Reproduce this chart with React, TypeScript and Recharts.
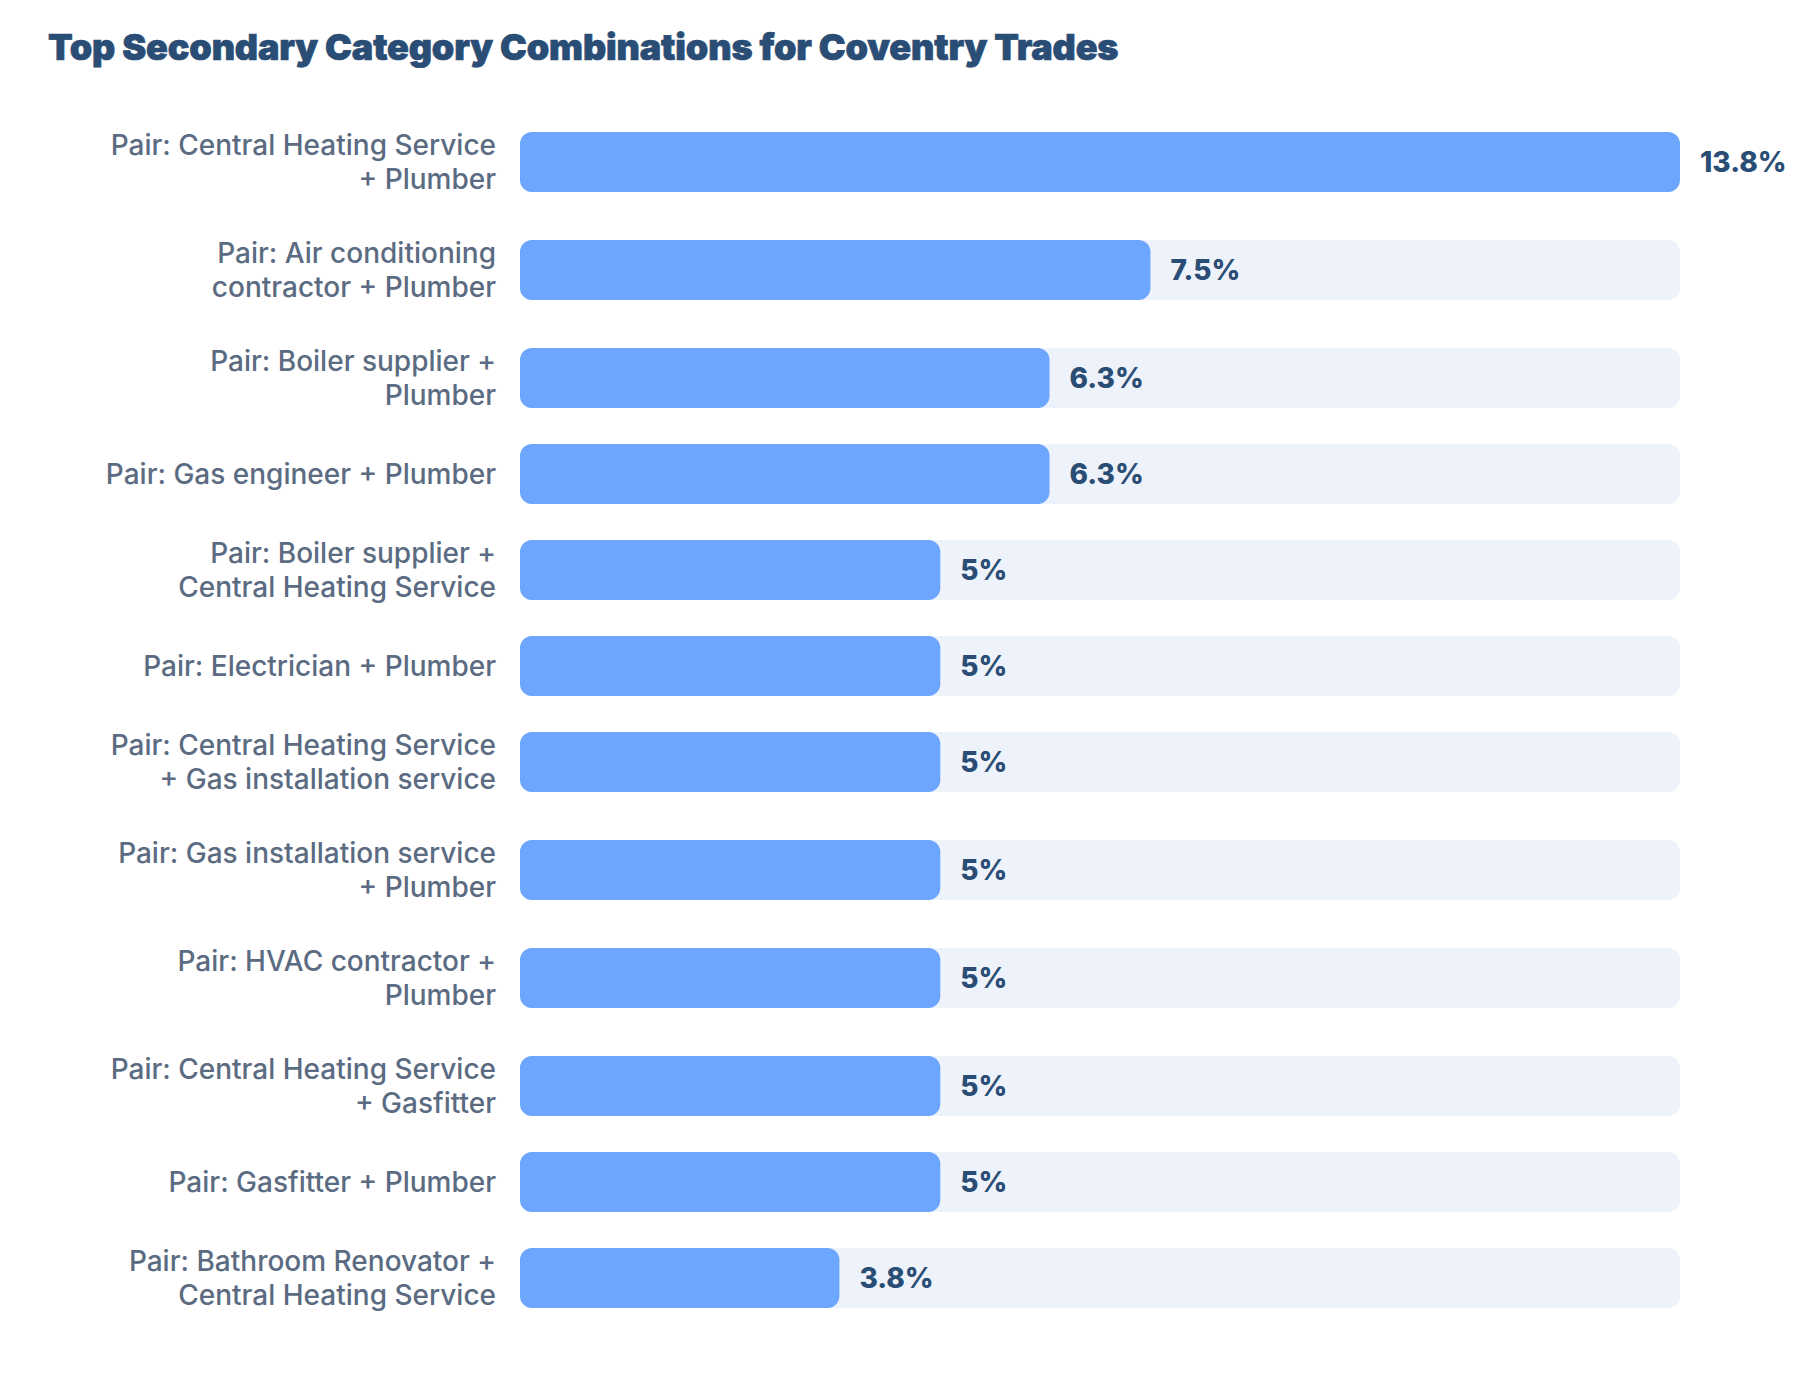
import { BarChart, Bar, XAxis, YAxis, LabelList } from 'recharts';

const title = 'Top Secondary Category Combinations for Coventry Trades';

// wrapped the way the labels wrap in the picture
const categoryLines: string[][] = [
  ['Pair: Central Heating Service', '+ Plumber'],
  ['Pair: Air conditioning', 'contractor + Plumber'],
  ['Pair: Boiler supplier +', 'Plumber'],
  ['Pair: Gas engineer + Plumber'],
  ['Pair: Boiler supplier +', 'Central Heating Service'],
  ['Pair: Electrician + Plumber'],
  ['Pair: Central Heating Service', '+ Gas installation service'],
  ['Pair: Gas installation service', '+ Plumber'],
  ['Pair: HVAC contractor +', 'Plumber'],
  ['Pair: Central Heating Service', '+ Gasfitter'],
  ['Pair: Gasfitter + Plumber'],
  ['Pair: Bathroom Renovator +', 'Central Heating Service'],
];

const shares = [13.8, 7.5, 6.3, 6.3, 5, 5, 5, 5, 5, 5, 5, 3.8];

// rows are taller when the label takes two lines
const ROW_ONE_LINE = 60;
const ROW_TWO_LINES = 84;
const ROW_GAP = 24;

let cursor = 0;
const rowCentres = categoryLines.map((lines) => {
  const h = lines.length > 1 ? ROW_TWO_LINES : ROW_ONE_LINE;
  const centre = cursor + h / 2;
  cursor += h + ROW_GAP;
  return centre;
});
const rowsHeight = cursor - ROW_GAP;

const chartData = shares.map((share, i) => ({ share, row: rowCentres[i] }));

const FONT = 'Inter, sans-serif';

const CategoryTick = ({ x, y, index }: any) => {
  const lines = categoryLines[index];
  const lineHeight = 34;
  const firstY = y - ((lines.length - 1) * lineHeight) / 2 + 10;
  return (
    <text textAnchor="end" fontFamily={FONT} fontSize={28} fontWeight={500} fill="#5B6B82">
      {lines.map((line, i) => (
        <tspan key={line} x={x} y={firstY + i * lineHeight}>
          {line}
        </tspan>
      ))}
    </text>
  );
};

export default function App() {
  return (
    <div style={{ position: 'absolute', left: 0, top: 0, width: 1800, height: 1376, background: '#fff' }}>
      <div
        style={{
          position: 'absolute',
          left: 48,
          top: 24,
          fontFamily: FONT,
          fontWeight: 900,
          fontSize: 36,
          lineHeight: '46px',
          letterSpacing: '-0.15px',
          WebkitTextStroke: '0.7px #2A4D75',
          color: '#2A4D75',
          whiteSpace: 'nowrap',
        }}
      >
        {title}
      </div>
      <BarChart
        width={1800}
        height={1376}
        data={chartData}
        layout="vertical"
        margin={{ top: 120, right: 120, bottom: 56, left: 0 }}
      >
        <XAxis type="number" domain={[0, 13.8]} hide />
        <YAxis
          type="number"
          dataKey="row"
          domain={[0, rowsHeight]}
          ticks={rowCentres}
          interval={0}
          width={520}
          axisLine={false}
          tickLine={false}
          tickMargin={18}
          tick={<CategoryTick />}
        />
        <Bar
          dataKey="share"
          barSize={60}
          fill="#6CA6FF"
          radius={12}
          background={{ fill: '#EEF2FA', radius: 12 }}
          isAnimationActive={false}
        >
          <LabelList
            dataKey="share"
            position="right"
            offset={20}
            formatter={(v: any) => `${v}%`}
            style={{ fontFamily: FONT, fontSize: 28, fontWeight: 800, fill: '#2A4D75' }}
          />
        </Bar>
      </BarChart>
    </div>
  );
}
